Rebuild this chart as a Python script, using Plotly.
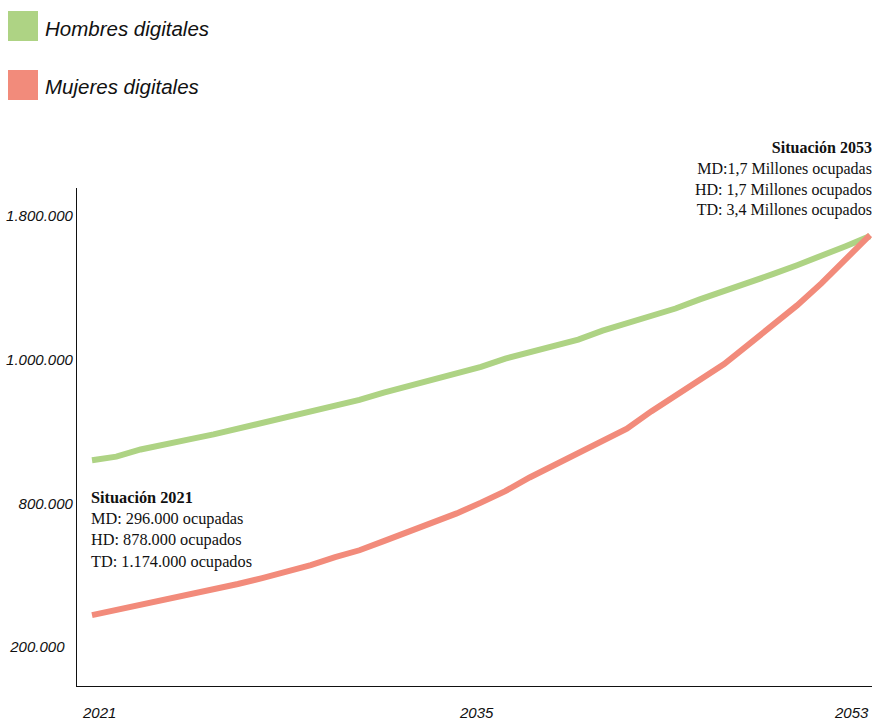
import numpy as np
import plotly.graph_objects as go

# ---- data ----
years = list(range(2021, 2054))
hombres = [860000, 865000, 875000, 881000, 889000, 896000, 904000, 911000, 919000,
           929000, 936000, 944000, 954000, 963000, 972000, 981000, 990000, 1006000,
           1039000, 1073000, 1112000, 1162000, 1201000, 1241000, 1285000, 1336000,
           1380000, 1425000, 1476000, 1526000, 1576000, 1632000, 1688000]
mujeres = [333000, 354000, 375000, 396000, 417000, 442000, 463000, 488000, 513000,
           542000, 575000, 604000, 642000, 679000, 717000, 758000, 801000, 817000,
           836000, 853000, 869000, 888000, 904000, 928000, 950000, 972000, 994000,
           1084000, 1190000, 1302000, 1425000, 1554000, 1694000]
y_tick_values = [200000, 800000, 1000000, 1800000]
y_tick_labels = ["200.000", "800.000", "1.000.000", "1.800.000"]
x_labels = ["2021", "2035", "2053"]
series_names = ["Hombres digitales", "Mujeres digitales"]
note_2021 = ["Situación 2021", "MD: 296.000 ocupadas", "HD: 878.000 ocupados", "TD: 1.174.000 ocupados"]
note_2053 = ["Situación 2053", "MD:1,7 Millones ocupadas", "HD: 1,7 Millones ocupados", "TD: 3,4 Millones ocupados"]

GREEN = "#aed384"
RED = "#f28b7b"

# the chart's value axis is segmented: each labelled value sits on an even step
tick_pos = list(range(len(y_tick_values)))
def to_axis(v):
    return np.interp(v, y_tick_values, tick_pos)

# the lowest label sits a little further left in the original
tick_text = [t + ("\u00a0\u00a0" if i == 0 else "") for i, t in enumerate(y_tick_labels)]

W, H = 872, 720
L, R, T, B = 77, 0, 188, 34
pw, ph = W - L - R, H - T - B
def px(x):
    return (x - L) / pw
def py(y):
    return (H - B - y) / ph

fig = go.Figure()
fig.add_trace(go.Scatter(x=years, y=to_axis(hombres), mode="lines", name=series_names[0],
                         line=dict(color=GREEN, width=6), showlegend=False, hoverinfo="skip"))
fig.add_trace(go.Scatter(x=years, y=to_axis(mujeres), mode="lines", name=series_names[1],
                         line=dict(color=RED, width=6), showlegend=False, hoverinfo="skip"))

sans = "Liberation Sans"
serif = "Liberation Serif"

# legend (squares + labels)
for i, (name, col) in enumerate(zip(series_names, [GREEN, RED])):
    yc = 26 + i * 59
    fig.add_shape(type="rect", xref="paper", yref="paper",
                  x0=px(8), x1=px(38), y0=py(yc - 15), y1=py(yc + 15),
                  fillcolor=col, line=dict(width=0))
    fig.add_annotation(xref="paper", yref="paper", x=px(43), y=py(yc + 2), text=name,
                       showarrow=False, xanchor="left", yanchor="middle",
                       font=dict(family=sans, size=20.5, color="#111", style="italic"))

# x labels
for lab, xp, anc in zip(x_labels, [80, 476, 871], ["left", "center", "right"]):
    fig.add_annotation(xref="paper", yref="paper", x=px(xp), y=py(712), text=lab,
                       showarrow=False, xanchor=anc, yanchor="middle",
                       font=dict(family=sans, size=15, color="#111", style="italic"))

# notes
fig.add_annotation(xref="paper", yref="paper", x=px(89), y=py(486),
                   text="<b>" + note_2021[0] + "</b><br>" + "<br>".join(note_2021[1:]),
                   showarrow=False, xanchor="left", yanchor="top", align="left",
                   font=dict(family=serif, size=16.3, color="#111"))
fig.add_annotation(xref="paper", yref="paper", x=px(874), y=py(137),
                   text="<b>" + note_2053[0] + "</b><br>" + "<br>".join(note_2053[1:]),
                   showarrow=False, xanchor="right", yanchor="top", align="right",
                   font=dict(family=serif, size=16, color="#111"))

fig.update_layout(
    width=W, height=H, margin=dict(l=L, r=R, t=T, b=B),
    paper_bgcolor="white", plot_bgcolor="white",
    xaxis=dict(range=[2020.383, 2053.082], showgrid=False, zeroline=False,
               showticklabels=False, ticks="", showline=True, linecolor="#111", linewidth=1.3),
    yaxis=dict(range=[-0.2715, 3.195], showgrid=False, zeroline=False,
               tickvals=tick_pos, ticktext=tick_text, ticks="",
               tickfont=dict(family=sans, size=15, color="#111", style="italic"),
               showline=True, linecolor="#111", linewidth=1.3),
)
fig.write_html("out.html", config={"displayModeBar": False},
               post_script="document.body.style.margin='0';document.body.style.overflow='hidden';")
